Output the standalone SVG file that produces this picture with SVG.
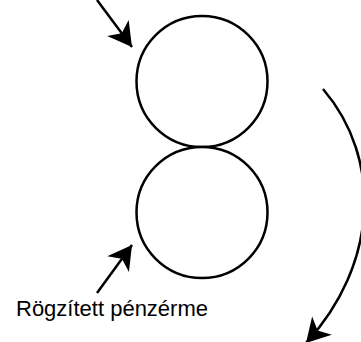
<svg xmlns="http://www.w3.org/2000/svg" width="361" height="342" viewBox="0 0 361 342">
<style>
.c{fill:#fff;stroke:#000;stroke-width:2.5}
.l{fill:none;stroke:#000;stroke-width:2.5}
.t{font-family:"Liberation Sans",Arial,sans-serif;font-size:22px;fill:#000}
</style>
<defs>
<marker id="ah" markerUnits="userSpaceOnUse" markerWidth="30" markerHeight="30" viewBox="-24 -14 26 28" refX="0" refY="0" orient="auto">
<path d="M0,0 L-22,-12.5 L-16,0 L-22,12.5 Z" fill="#000"/>
</marker>
</defs>
<rect width="361" height="342" fill="#fff"/>
<g id="coin-top"><circle class="c" cx="202" cy="81.5" r="65.5"/></g>
<g id="coin-fixed"><circle class="c" cx="202" cy="212.5" r="65.5"/></g>
<g id="label"><text class="t" x="16" y="316">Rögzített pénzérme</text></g>
<g id="connectors">
<path class="l" d="M97,0 L132,47" marker-end="url(#ah)"/>
<path class="l" d="M97,293 L132,245" marker-end="url(#ah)"/>
<path class="l" d="M323,89 C383,159 378,265 306,343" marker-end="url(#ah)"/>
</g>
</svg>
